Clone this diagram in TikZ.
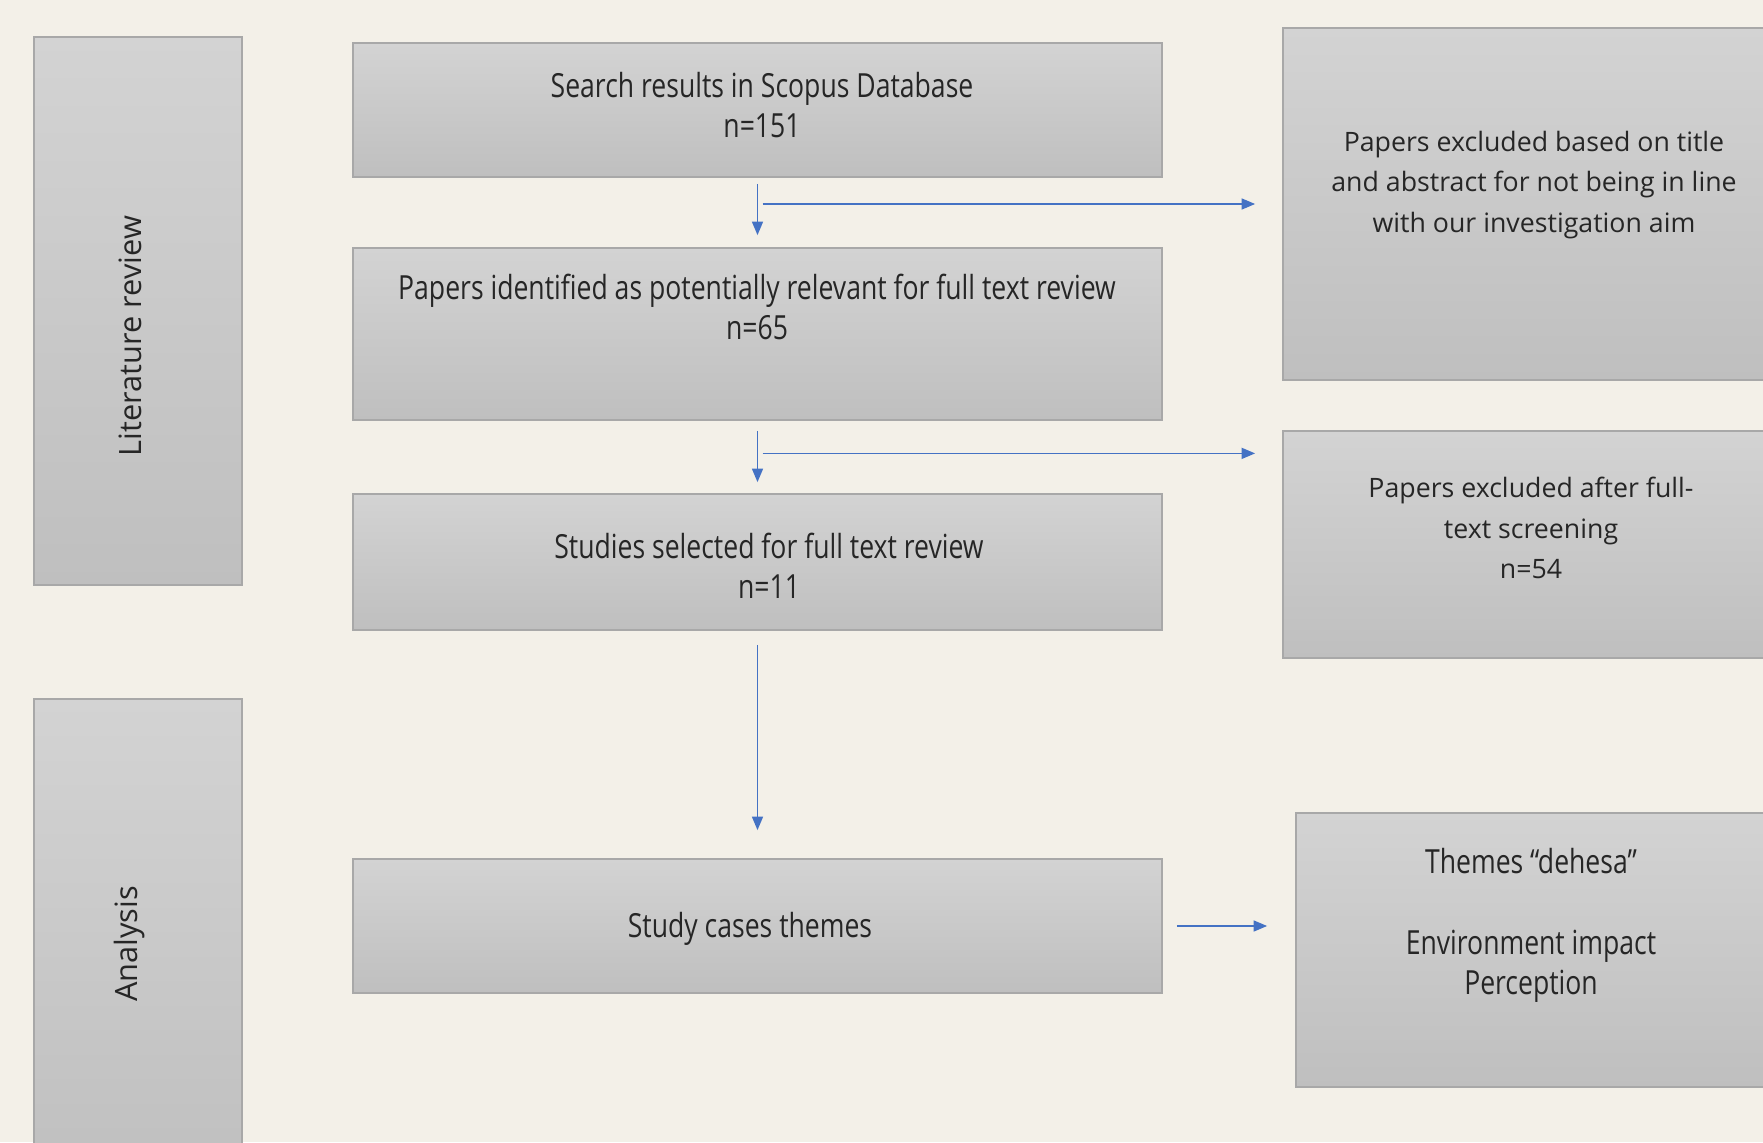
\documentclass[tikz,border=0pt]{standalone}
\usepackage{fontspec}
\setmainfont{Open Sans}
\newfontfamily\boxfont[FakeStretch=0.8]{Open Sans}
\definecolor{pgback}{RGB}{243,240,232}
\definecolor{pgtop}{RGB}{211,211,211}
\definecolor{pgbot}{RGB}{191,191,191}
\definecolor{pgedge}{RGB}{168,168,168}
\definecolor{pgblue}{RGB}{68,114,196}
\definecolor{pgtext}{RGB}{38,38,38}
\usetikzlibrary{arrows.meta,positioning,calc}

\begin{document}
\begin{tikzpicture}[
  box/.style={draw=pgedge,line width=0.5pt,top color=pgtop,bottom color=pgbot,
    minimum width=8.09cm},
  stage/.style={box,minimum width=2.08cm},
  txt/.style={text=pgtext,align=center,font=\boxfont\fontsize{9.45}{11.5}\selectfont},
  sidetxt/.style={txt,font=\fontsize{7.6}{11.5}\selectfont},
  lbl/.style={text=pgtext,rotate=90,font=\fontsize{8.75}{10.5}\selectfont},
  arr/.style={-{Triangle[length=1.35mm,width=1.1mm]},pgblue,line width=0.45pt},
  down/.style={arr,xshift=0.025cm}
]
  \path[use as bounding box,fill=pgback] (0,0) rectangle (17.63,11.42);
  \clip (0,0) rectangle (17.63,11.42);

  % Stages
  \node[stage,minimum height=5.48cm] (litrev) at (1.38,8.31) {};
  \node[lbl] (litrevtxt) at (1.30,8.06) {Literature review};
  \node[stage,minimum height=4.90cm] (analysis) at (1.38,1.98) {};
  \node[lbl] (analysistxt) at (1.30,1.98) {Analysis};

  % Screening flow
  \node[box,minimum height=1.34cm] (search) at (7.575,10.32) {};
  \node[txt] (searchtxt) at (7.62,10.37) {Search results in Scopus Database\\n=151};
  \node[box,minimum height=1.72cm] (ident) at (7.575,8.08) {};
  \node[txt] (identtxt) at (7.57,8.35) {Papers identified as potentially relevant for full text review\\n=65};
  \node[box,minimum height=1.36cm] (studies) at (7.575,5.80) {};
  \node[txt] (studiestxt) at (7.69,5.76) {Studies selected for full text review\\n=11};
  \node[box,minimum height=1.34cm] (cases) at (7.575,2.16) {};
  \node[txt] (casestxt) at (7.50,2.135) {Study cases themes};

  % Exclusions and results
  \node[box,minimum width=5.02cm,minimum height=3.52cm] (excl1) at (15.34,9.38) {};
  \node[sidetxt] (excl1txt) at (15.34,9.57) {Papers excluded based on title\\and abstract for not being in line\\with our investigation aim};
  \node[box,minimum width=5.02cm,minimum height=2.27cm] (excl2) at (15.34,5.975) {};
  \node[sidetxt] (excl2txt) at (15.31,6.14) {Papers excluded after full-\\text screening\\n=54};
  \node[box,minimum width=4.70cm,minimum height=2.74cm] (themes) at (15.31,1.92) {};
  \node[txt] (themestxt) at (15.31,2.165) {Themes “dehesa”\\[11.5pt]Environment impact\\Perception};

  % Arrows
  \draw[down,shorten <=0.06cm,shorten >=0.12cm] (search.south) -- (ident.north);
  \draw[down,shorten <=0.10cm,shorten >=0.11cm] (ident.south) -- (studies.north);
  \draw[down,shorten <=0.14cm,shorten >=0.28cm] (studies.south) -- (cases.north);
  \coordinate (fork1) at (search.south |- excl1.west);
  \draw[arr,shorten >=0.27cm] ([xshift=0.05cm]fork1) -- (excl1.west);
  \coordinate (fork2) at ($(ident.south)!0.45!(studies.north)$);
  \draw[arr,shorten >=0.27cm] ([xshift=0.05cm]fork2) -- (fork2 -| excl2.west);
  \draw[arr,shorten <=0.14cm,shorten >=0.28cm] (cases.east) -- (themes.west |- cases.east);
\end{tikzpicture}
\end{document}
